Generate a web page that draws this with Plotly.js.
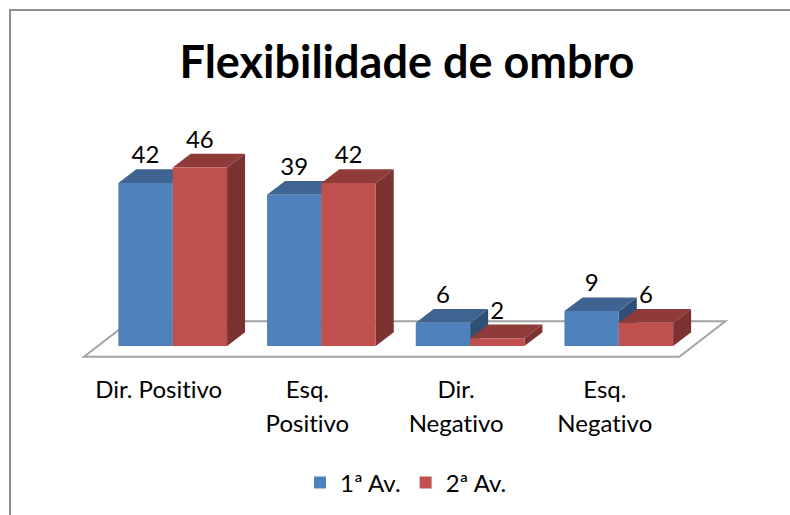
<!DOCTYPE html>
<html><head><meta charset="utf-8">
<script src="https://cdn.plot.ly/plotly-3.0.1.min.js"></script>
<style>html,body{margin:0;padding:0;width:790px;height:515px;background:#fff;overflow:hidden}
#chart{position:fixed;left:0;top:0;width:790px;height:515px}
text{font-variant-ligatures:none;font-feature-settings:"liga" 0,"clig" 0}
.legend path.legendbar{transform:translate(15px,0) scale(1.25)}
</style>
</head><body><div id="chart"></div>
<script>
const categories = ["Dir. Positivo", "Esq.<br>Positivo", "Dir.<br>Negativo", "Esq.<br>Negativo"];
const seriesNames = ["1ª Av.", "2ª Av."];
const av1 = [42, 39, 6, 9];
const av2 = [46, 42, 2, 6];
const frontColors = ["#4F81BD", "#C0504D"];
const topColors = ["#3F6491", "#8E3B39"];
const sideColors = ["#2F5074", "#7B3230"];
const FONT = "Lato, Carlito, sans-serif";
const LABEL_PX = 24;

// plot frame in pixels
const W = 790, H = 515, L = 80, R = 730, T = 100, B = 510, AXIS_Y = 360;
const pxPerCat = 148.7, pxPerUnit = 3.88, cat0Px = 172.7, zeroPx = 346;
const xr = [(L - cat0Px) / pxPerCat, (R - cat0Px) / pxPerCat];
const yr = [(zeroPx - B) / pxPerUnit, (zeroPx - T) / pxPerUnit];
const gap = 0.269, barW = (1 - gap) / 2;
const depthX = 18 / pxPerCat, depthY = 13.7 / pxPerUnit;
const pos = categories.map((_, i) => i);

const poly = (pts, fill) => ({
  type: "path", xref: "x", yref: "y", layer: "below",
  path: "M" + pts.map(p => p[0] + "," + p[1]).join("L") + "Z",
  fillcolor: fill, line: {width: 0}
});

const shapes = [];
// floor
const floorLow = (zeroPx - 356.7) / pxPerUnit, floorHigh = (zeroPx - 321.3) / pxPerUnit;
const floorL0 = (84 - cat0Px) / pxPerCat, floorR0 = (679.3 - cat0Px) / pxPerCat, floorDX = 46 / pxPerCat;
shapes.push({
  type: "path", xref: "x", yref: "y", layer: "below",
  path: `M${floorL0},${floorLow}L${floorR0},${floorLow}L${floorR0 + floorDX},${floorHigh}L${floorL0 + floorDX},${floorHigh}Z`,
  fillcolor: "#ffffff", line: {color: "#A3A3A3", width: 2}
});
// depth faces, drawn from the data
pos.forEach(i => {
  [av1, av2].forEach((s, k) => {
    const x0 = i - barW + k * barW, x1 = x0 + barW, v = s[i];
    shapes.push(poly([[x1, 0], [x1 + depthX, depthY], [x1 + depthX, v + depthY], [x1, v]], sideColors[k]));
    shapes.push(poly([[x0, v], [x0 + depthX, v + depthY], [x1 + depthX, v + depthY], [x1, v]], topColors[k]));
  });
});
// chart border (top and left only)
const px = x => (x - L) / (R - L), py = y => (B - y) / (B - T);
shapes.push({type: "path", xref: "paper", yref: "paper", layer: "below",
  path: `M${px(10)},${py(515)}L${px(10)},${py(10)}L${px(790)},${py(10)}`,
  line: {color: "#8E8E8E", width: 2}});

const wrap = t => t.split("<br>").map(s => `<span style="font-size:${LABEL_PX}px">${s}</span>`).join("<br>");

const barTrace = (s, k) => ({
  type: "bar", name: seriesNames[k], x: pos, y: s,
  marker: {color: frontColors[k], line: {width: 0}}, hoverinfo: "x+y"
});
const labelTrace = (s, k) => ({
  type: "scatter", mode: "text", showlegend: false, hoverinfo: "skip",
  x: pos.map(i => i - barW / 2 + (k * barW)), y: s.map(v => v + depthY),
  text: s.map(String), textposition: "top center", cliponaxis: false,
  textfont: {family: FONT, size: LABEL_PX, color: "#000"}
});

Plotly.newPlot("chart", [barTrace(av1, 0), barTrace(av2, 1), labelTrace(av1, 0), labelTrace(av2, 1)], {
  width: W, height: H, paper_bgcolor: "#fff", plot_bgcolor: "rgba(0,0,0,0)",
  margin: {l: L, r: W - R, t: T, b: H - B, pad: 0},
  barmode: "group", bargap: gap, bargroupgap: 0,
  title: {text: "<b>Flexibilidade de ombro</b>", x: 407 / W, xanchor: "center", xref: "container",
    y: 1 - 62 / H, yanchor: "middle", font: {family: FONT, size: 45, color: "#000"}},
  xaxis: {range: xr, tickmode: "array", tickvals: pos.map(i => i - 14 / pxPerCat), ticktext: categories.map(wrap),
    anchor: "free", position: py(AXIS_Y),
    ticks: "outside", ticklen: 7, tickcolor: "rgba(0,0,0,0)", showgrid: false, zeroline: false,
    showline: false, tickangle: 0, tickfont: {family: FONT, size: 25.4, color: "#000"}, automargin: false},
  yaxis: {range: yr, visible: false, showgrid: false, zeroline: false},
  legend: {orientation: "h", x: px(406), xanchor: "center", y: py(483), yanchor: "middle",
    font: {family: FONT, size: LABEL_PX, color: "#000"}, bgcolor: "rgba(0,0,0,0)"},
  shapes: shapes, showlegend: true
}, {displayModeBar: false, staticPlot: true});
</script></body></html>
